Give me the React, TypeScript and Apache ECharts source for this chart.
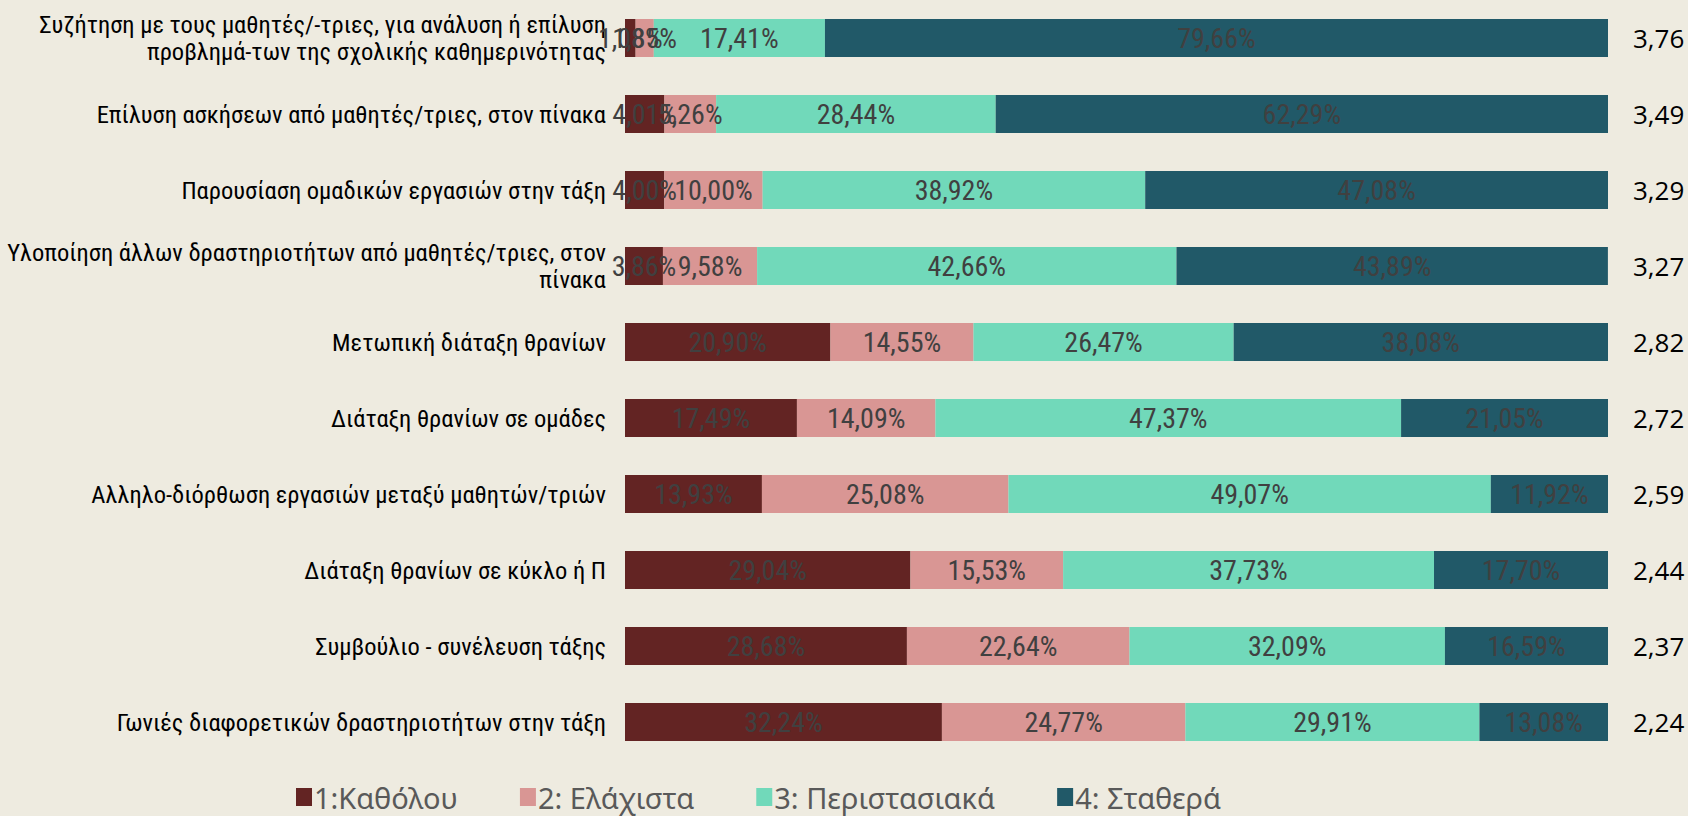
import React, { useEffect, useRef } from "react";
import * as echarts from "echarts";

const categories = [
  "Συζήτηση με τους μαθητές/-τριες, για ανάλυση ή επίλυση\nπροβλημά-των της σχολικής καθημερινότητας",
  "Επίλυση ασκήσεων από μαθητές/τριες, στον πίνακα",
  "Παρουσίαση ομαδικών εργασιών στην τάξη",
  "Υλοποίηση άλλων δραστηριοτήτων από μαθητές/τριες, στον\nπίνακα",
  "Μετωπική διάταξη θρανίων",
  "Διάταξη θρανίων σε ομάδες",
  "Αλληλο-διόρθωση εργασιών μεταξύ μαθητών/τριών",
  "Διάταξη θρανίων σε κύκλο ή Π",
  "Συμβούλιο - συνέλευση τάξης",
  "Γωνιές διαφορετικών δραστηριοτήτων στην τάξη",
];

const means = ["3,76", "3,49", "3,29", "3,27", "2,82", "2,72", "2,59", "2,44", "2,37", "2,24"];

const seriesNames = ["1:Καθόλου", "2: Ελάχιστα", "3: Περιστασιακά", "4: Σταθερά"];

const katholou = [1.08, 4.01, 4.0, 3.86, 20.9, 17.49, 13.93, 29.04, 28.68, 32.24];
const elaxista = [1.85, 5.26, 10.0, 9.58, 14.55, 14.09, 25.08, 15.53, 22.64, 24.77];
const peristasiaka = [17.41, 28.44, 38.92, 42.66, 26.47, 47.37, 49.07, 37.73, 32.09, 29.91];
const stathera = [79.66, 62.29, 47.08, 43.89, 38.08, 21.05, 11.92, 17.7, 16.59, 13.08];

const colors = ["#632423", "#D99694", "#71D9BA", "#215968"];

export default function App() {
  const ref = useRef<HTMLDivElement>(null);
  useEffect(() => {
    if (!ref.current) return;
    const chart = echarts.init(ref.current, null, { renderer: "svg" });
    const values = [katholou, elaxista, peristasiaka, stathera];
    const labelFont = "'Liberation Sans Narrow', 'Roboto Condensed', 'Liberation Sans', sans-serif";
    chart.setOption({
      animation: false,
      backgroundColor: "#EEEBE0",
      grid: { left: 625, right: 80, top: 0, height: 760, containLabel: false },
      legend: {
        top: 777,
        left: 291,
        itemWidth: 16,
        itemHeight: 18,
        itemGap: 62,
        icon: "rect",
        textStyle: {
          fontSize: 29,
          lineHeight: 30,
          color: "#595959",
          fontFamily: "'Noto Sans', 'Open Sans', sans-serif",
          padding: [0, 0, 0, -3],
        },
        data: seriesNames,
      },
      xAxis: { type: "value", min: 0, max: 100, show: false },
      yAxis: [
        {
          type: "category",
          inverse: true,
          data: categories,
          axisLine: { show: false },
          axisTick: { show: false },
          axisLabel: {
            margin: 19,
            fontSize: 24.5,
            lineHeight: 27,
            color: "#000000",
            fontFamily: labelFont,
            align: "right",
          },
        },
        {
          type: "category",
          inverse: true,
          position: "right",
          data: means,
          axisLine: { show: false },
          axisTick: { show: false },
          axisLabel: {
            margin: 25,
            fontSize: 26,
            color: "#000000",
            fontFamily: "'Open Sans', 'Noto Sans', sans-serif",
          },
        },
      ],
      series: seriesNames.map((name, i) => ({
        name,
        type: "bar",
        stack: "total",
        yAxisIndex: 0,
        barWidth: "50%",
        data: values[i],
        itemStyle: { color: colors[i] },
        label: {
          show: true,
          position: "inside",
          fontSize: 28,
          color: "#404040",
          fontFamily: labelFont,
          formatter: (p: any) => p.value.toFixed(2).replace(".", ",") + "%",
        },
      })),
    });
    return () => chart.dispose();
  }, []);
  return (
    <div
      ref={ref}
      style={{ position: "absolute", left: 0, top: 0, width: 1688, height: 816 }}
    />
  );
}
